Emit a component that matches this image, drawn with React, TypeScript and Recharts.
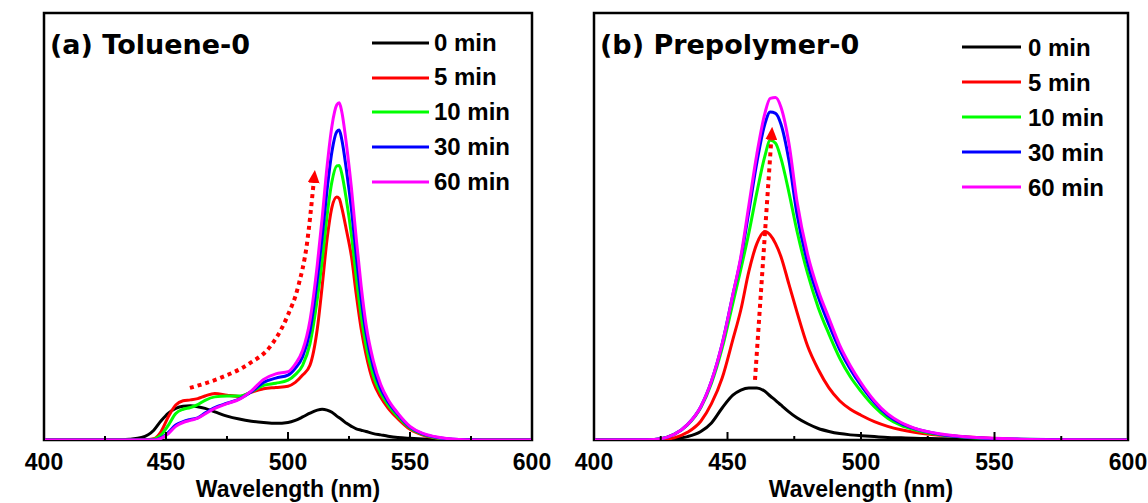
import { LineChart, Line, XAxis, YAxis, ReferenceArea, Legend } from 'recharts';

// panel (a) Toluene-0
const nmA = [400, 430, 435, 440, 445, 448, 451, 454, 457, 460, 463, 466, 470, 475, 480, 485, 490, 495, 500, 503, 506, 509, 512, 514, 516, 518, 520, 521, 522, 524, 526, 528, 530, 532, 535, 538, 541, 545, 550, 555, 560, 565, 570, 580, 600];
const a0 = [0, 0, 0.2, 0.6, 2.3, 4.5, 6.3, 7.4, 7.9, 8.0, 7.8, 7.4, 6.6, 5.6, 4.9, 4.4, 4.1, 3.9, 4.1, 4.6, 5.4, 6.3, 7.0, 7.2, 7.0, 6.5, 5.6, 5.2, 4.8, 3.9, 3.2, 2.6, 2.3, 2.0, 1.5, 1.2, 0.9, 0.6, 0.4, 0.25, 0.15, 0.1, 0.05, 0, 0];
const a5 = [0, 0, 0, 0, 0.3, 2.0, 5.5, 8.2, 9.2, 9.4, 9.7, 10.3, 10.9, 10.5, 10.2, 11.2, 12.0, 12.3, 12.6, 13.5, 15.2, 17.5, 26, 36, 47, 54.5, 56.9, 56.5, 54.5, 49, 43, 34, 26, 20, 13.5, 10, 7.5, 5, 2.5, 1.2, 0.5, 0.2, 0.05, 0, 0];
const a10 = [0, 0, 0, 0, 0.2, 1.2, 3.5, 6.2, 7.2, 7.6, 8.3, 9.3, 10.1, 10.3, 10.3, 11.3, 12.8, 13.3, 14.0, 15.3, 17.5, 22.5, 33, 42, 52.5, 60.5, 64.2, 64.3, 62.5, 56, 48, 38, 29, 22, 15, 11, 8.2, 5.5, 2.8, 1.4, 0.6, 0.25, 0.08, 0, 0];
const a30 = [0, 0, 0, 0, 0, 0.5, 1.8, 3.5, 4.3, 4.8, 5.2, 6.3, 7.6, 8.6, 9.6, 11.3, 13.5, 14.5, 15.2, 16.8, 19.5, 25.5, 37.5, 47.5, 58.5, 67.5, 72.2, 72.6, 70.5, 63, 54, 43, 33, 25, 17, 12, 9, 6, 3, 1.5, 0.7, 0.3, 0.1, 0, 0];
const a60 = [0, 0, 0, 0, 0, 0.4, 1.5, 3.2, 4.1, 4.6, 5.1, 6.1, 7.4, 8.5, 9.5, 11.5, 14.2, 15.5, 16.0, 17.8, 21, 28, 41, 52, 64, 73.5, 78.5, 79, 77, 69, 59, 47, 36, 27, 18.5, 13, 9.5, 6.3, 3.2, 1.6, 0.8, 0.35, 0.12, 0, 0];
const arrowANm = [459.8, 472.1, 484.4, 492.6, 499.6, 504.1, 507.8, 510.5];
const arrowAVal = [12.2, 14.5, 18.0, 21.8, 28.8, 35.8, 46.1, 60.2];

// panel (b) Prepolymer-0
const nmB = [400, 420, 425, 430, 435, 440, 444, 448, 452, 455, 458, 461, 464, 466, 468, 470, 473, 476, 480, 484, 488, 492, 496, 500, 505, 510, 515, 520, 530, 540, 550, 560, 580, 600];
const b0 = [0, 0, 0.05, 0.3, 0.8, 2.0, 4.0, 7.5, 10.5, 11.7, 12.2, 12.2, 11.4, 10.3, 9.3, 8.2, 6.6, 5.2, 3.8, 2.7, 2.0, 1.5, 1.2, 1.0, 0.8, 0.6, 0.5, 0.4, 0.3, 0.15, 0.05, 0, 0, 0];
const b5 = [0, 0.02, 0.1, 0.5, 1.8, 4.4, 8.5, 14.5, 23.5, 30.5, 39.5, 46, 48.8, 48, 46, 43, 36.5, 30, 22, 16.5, 12.2, 9.2, 7.2, 5.8, 4.3, 3.2, 2.4, 1.8, 1.1, 0.7, 0.35, 0.1, 0, 0];
const b10 = [0, 0.05, 0.3, 1.3, 3.5, 7.6, 13.3, 21.5, 32, 40, 48.5, 58, 66.5, 70.2, 69.5, 66, 58, 49, 39, 31, 24.8, 19.2, 14.8, 11.4, 7.8, 5.1, 3.4, 2.4, 1.2, 0.6, 0.3, 0.15, 0.05, 0];
const b30 = [0, 0.05, 0.3, 1.3, 3.6, 7.8, 13.8, 22.5, 34, 42.5, 53.5, 65, 74, 76.8, 76.5, 74, 65.5, 53, 41.5, 33.5, 27, 21.2, 16.6, 12.8, 8.8, 5.8, 3.9, 2.7, 1.3, 0.65, 0.35, 0.2, 0.05, 0];
const b60 = [0, 0.05, 0.3, 1.3, 3.6, 7.8, 13.8, 22.5, 34, 43, 55, 67, 76.5, 80, 80.2, 78, 69.5, 56, 43.5, 35, 28.5, 22.2, 17.4, 13.4, 9.2, 6.1, 4.1, 2.8, 1.4, 0.7, 0.4, 0.2, 0.05, 0];
const arrowBNm = [460.3, 466.4];
const arrowBVal = [14.1, 70.3];

const xTicks = [400, 425, 450, 475, 500, 525, 550, 575, 600];
const seriesNames = ['0 min', '5 min', '10 min', '30 min', '60 min'];
const colors = ['#000000', '#ff0000', '#00ff00', '#0000ff', '#ff00ff'];

const font = '"Liberation Sans", Arial, sans-serif';

const buildRows = (nm: number[], cols: number[][]) =>
  nm.map((w, i) => {
    const row: any = { nm: w };
    cols.forEach((c, k) => (row['s' + k] = c[i]));
    return row;
  });

const dataA = buildRows(nmA, [a0, a5, a10, a30, a60]);
const dataB = buildRows(nmB, [b0, b5, b10, b30, b60]);
const arrowA = arrowANm.map((w, i) => ({ nm: w, v: arrowAVal[i] }));
const arrowB = arrowBNm.map((w, i) => ({ nm: w, v: arrowBVal[i] }));

const Tick = (props: any) => {
  const { x, y, payload } = props;
  const major = payload.value % 50 === 0;
  return (
    <g>
      <line x1={x} x2={x} y1={y} y2={y - (major ? 8 : 4)} stroke="#000" strokeWidth={2} />
      {major && (
        <text x={x} y={y + 30} textAnchor="middle" fontFamily={font} fontWeight={700} fontSize={23} fill="#000">
          {payload.value}
        </text>
      )}
    </g>
  );
};

const LegendBox = ({ payload, lineW, gap, rowH }: any) => {
  const items = (payload || [])
    .filter((p: any) => seriesNames.includes(p.value))
    .sort((a: any, b: any) => seriesNames.indexOf(a.value) - seriesNames.indexOf(b.value));
  return (
    <div style={{ fontFamily: font, fontWeight: 700, fontSize: 24, color: '#000' }}>
      {items.map((p: any) => (
        <div key={p.value} style={{ height: rowH, display: 'flex', alignItems: 'center' }}>
          <svg width={lineW} height={4} style={{ display: 'block' }}>
            <line x1={0} x2={lineW} y1={2} y2={2} stroke={p.color} strokeWidth={3} />
          </svg>
          <span style={{ marginLeft: gap, lineHeight: rowH + 'px' }}>{p.value}</span>
        </div>
      ))}
    </div>
  );
};

type PanelProps = {
  left: number;
  width: number;
  margin: { top: number; right: number; bottom: number; left: number };
  data: any[];
  arrow: any[];
  arrowType: 'monotone' | 'linear';
  title: string;
  titleX: number;
  markerId: string;
  yLabelGap: number;
  legendLeft: number;
  legendTop: number;
  legendLine: number;
  legendGap: number;
  legendRow: number;
};

const Panel = (p: PanelProps) => (
  <div style={{ position: 'absolute', left: p.left, top: 0 }}>
    <LineChart width={p.width} height={503} data={p.data} margin={p.margin}>
      <defs>
        <marker id={p.markerId} markerWidth={13} markerHeight={12} refX={0} refY={6} orient="auto" markerUnits="userSpaceOnUse">
          <path d="M0,0 L13,6 L0,12 z" fill="#ff0000" />
        </marker>
      </defs>
      <XAxis
        dataKey="nm"
        type="number"
        domain={[400, 600]}
        ticks={xTicks}
        allowDataOverflow
        height={63}
        axisLine={false}
        tickLine={false}
        tickSize={0}
        tickMargin={0}
        tick={<Tick />}
        interval={0}
        label={{ value: 'Wavelength (nm)', position: 'insideBottom', offset: 6, fontFamily: font, fontWeight: 700, fontSize: 23, fill: '#000' }}
      />
      <YAxis
        type="number"
        domain={[0, 100]}
        allowDataOverflow
        width={0}
        axisLine={false}
        tickLine={false}
        tick={false}
        label={{
          content: (lp: any) => {
            const vb = lp.viewBox || {};
            const cx = vb.x - p.yLabelGap;
            const cy = 238;
            return (
              <text x={cx} y={cy} transform={`rotate(-90, ${cx}, ${cy})`} textAnchor="middle" fontFamily={font} fontWeight={700} fontSize={23} fill="#000">
                PL Intensity (a.u.)
              </text>
            );
          },
        }}
      />
      <ReferenceArea x1={400} x2={600} y1={0} y2={100} fill="none" stroke="#000" strokeWidth={2.5} ifOverflow="visible" />
      {seriesNames.map((n, k) => (
        <Line key={n} name={n} dataKey={'s' + k} type="monotone" stroke={colors[k]} strokeWidth={3} dot={false} isAnimationActive={false} />
      ))}
      <Line
        data={p.arrow}
        dataKey="v"
        name="arrow"
        type={p.arrowType}
        stroke="#ff0000"
        strokeWidth={4}
        strokeDasharray="4 4"
        dot={false}
        legendType="none"
        markerEnd={`url(#${p.markerId})`}
        isAnimationActive={false}
      />
      <Legend
        layout="vertical"
        align="center"
        verticalAlign="middle"
        itemSorter={null as any}
        wrapperStyle={{ left: p.legendLeft, top: p.legendTop, width: 'auto', height: 'auto' }}
        content={<LegendBox lineW={p.legendLine} gap={p.legendGap} rowH={p.legendRow} />}
      />
      <text x={p.titleX} y={54} fontFamily='"DejaVu Sans", sans-serif' fontWeight={700} fontSize={27} fill="#000">
        {p.title}
      </text>
    </LineChart>
  </div>
);

export default function App() {
  return (
    <div style={{ position: 'absolute', left: 0, top: 0, width: 1148, height: 503, background: '#fff' }}>
      <Panel
        left={0}
        width={562}
        margin={{ top: 13, right: 30, bottom: 0, left: 44 }}
        data={dataA}
        arrow={arrowA}
        arrowType="monotone"
        title="(a) Toluene-0"
        titleX={50}
        markerId="arrowHeadA"
        yLabelGap={22}
        legendLeft={372}
        legendTop={25.5}
        legendLine={57}
        legendGap={5}
        legendRow={34.75}
      />
      <Panel
        left={562}
        width={586}
        margin={{ top: 13, right: 20, bottom: 0, left: 32 }}
        data={dataB}
        arrow={arrowB}
        arrowType="linear"
        title="(b) Prepolymer-0"
        titleX={38}
        markerId="arrowHeadB"
        yLabelGap={15}
        legendLeft={400}
        legendTop={29.5}
        legendLine={59}
        legendGap={7}
        legendRow={35}
      />
    </div>
  );
}
